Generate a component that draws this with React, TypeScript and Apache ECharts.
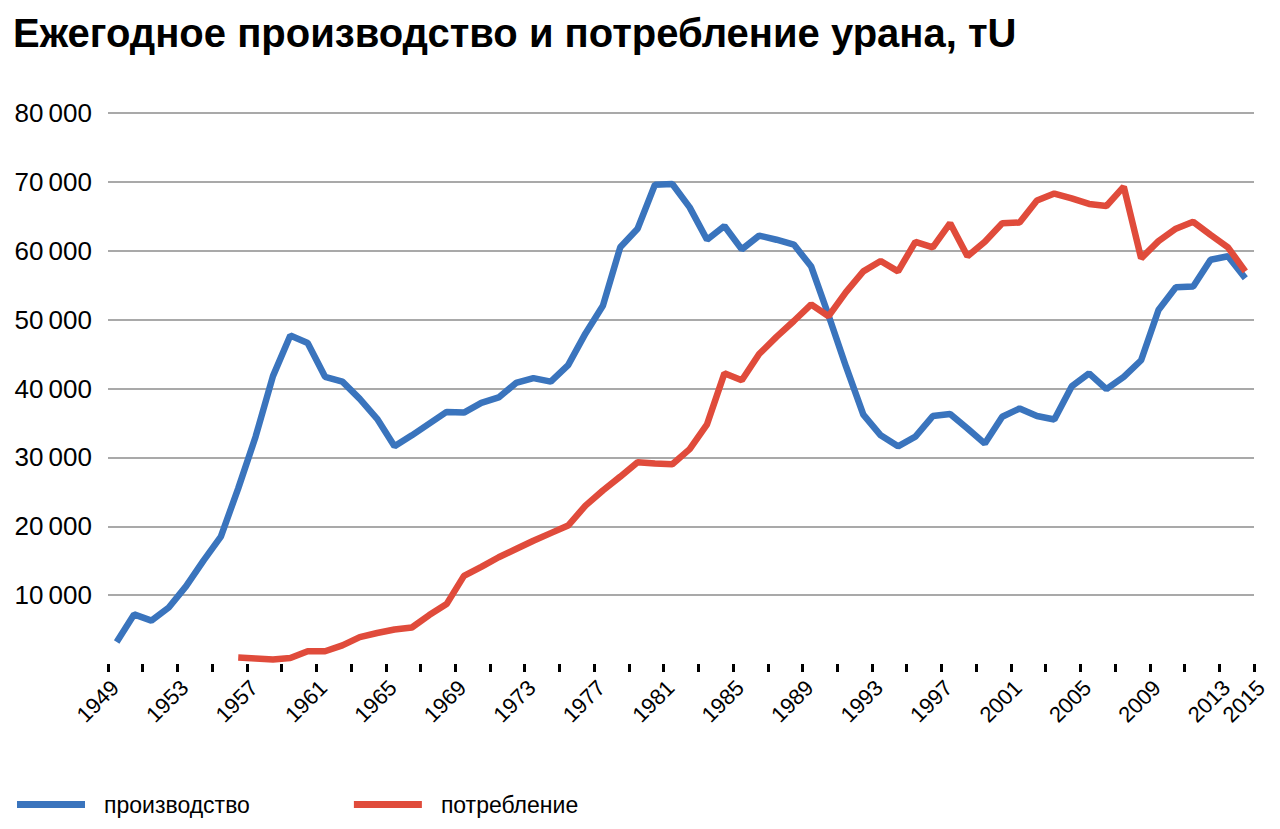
import React, { useEffect, useRef } from "react";
import * as echarts from "echarts";

const TITLE = "Ежегодное производство и потребление урана, тU";
const SERIES_NAMES = ["производство", "потребление"];

const productionStartYear = 1949;
const production = [
  3200, 7200, 6300, 8200, 11300, 15000, 18500, 25500, 33000, 41800,
  47700, 46600, 41700, 41000, 38500, 35600, 31600, 33200, 34900, 36600,
  36500, 37900, 38700, 40800, 41500, 41000, 43400, 48000, 52000, 60500,
  63200, 69600, 69700, 66300, 61600, 63600, 60200, 62200, 61600, 60900,
  57700, 50600, 43200, 36200, 33200, 31600, 33000, 36000, 36300, 34200,
  32000, 35900, 37100, 36000, 35500, 40300, 42200, 39900, 41700, 44100,
  51400, 54700, 54800, 58700, 59200, 56000,
];

const consumptionStartYear = 1956;
const consumption = [
  930, 800, 650, 870, 1850, 1850, 2700, 3900, 4500, 5000,
  5300, 7100, 8700, 12800, 14100, 15500, 16700, 17900, 19000, 20100,
  23000, 25200, 27200, 29300, 29100, 29000, 31200, 34800, 42200, 41200,
  45000, 47500, 49800, 52200, 50500, 54000, 57000, 58500, 57000, 61300,
  60500, 64000, 59200, 61300, 64000, 64100, 67300, 68300, 67600, 66800,
  66500, 69300, 58900, 61400, 63200, 64200, 62300, 60500, 57000,
];

const AXIS_MIN_YEAR = 1949;
const AXIS_MAX_YEAR = 2015;
const tickYears = [
  1949, 1951, 1953, 1955, 1957, 1959, 1961, 1963, 1965, 1967, 1969, 1971,
  1973, 1975, 1977, 1979, 1981, 1983, 1985, 1987, 1989, 1991, 1993, 1995,
  1997, 1999, 2001, 2003, 2005, 2007, 2009, 2011, 2013, 2015,
];
const labelYears = [
  1949, 1953, 1957, 1961, 1965, 1969, 1973, 1977, 1981, 1985, 1989, 1993,
  1997, 2001, 2005, 2009, 2013, 2015,
];
const yTicks = [0, 10000, 20000, 30000, 40000, 50000, 60000, 70000, 80000];

const BLUE = "#3a74bd";
const RED = "#e04b3b";
const FONT = "'Liberation Sans', Arial, sans-serif";

function toPoints(start: number, values: number[]) {
  // each year's value sits in the middle of its yearly slot
  return values.map((v, i) => [start + i + 0.5, v]);
}

function fmt(v: number) {
  if (v === 0) return "";
  const s = String(Math.round(v));
  return s.slice(0, s.length - 3) + "\u2009" + s.slice(s.length - 3);
}

export default function App() {
  const ref = useRef<HTMLDivElement>(null);

  useEffect(() => {
    if (!ref.current) return;
    const chart = echarts.init(ref.current, undefined, { renderer: "svg" });
    chart.setOption({
      animation: false,
      backgroundColor: "#ffffff",
      title: {
        text: TITLE,
        left: 8,
        top: 8,
        textStyle: {
          fontFamily: FONT,
          fontSize: 40,
          fontWeight: "bold",
          color: "#000",
        },
      },
      legend: {
        left: 12,
        top: 788,
        icon: "rect",
        itemWidth: 68,
        itemHeight: 7,
        itemGap: 104,
        textStyle: {
          fontFamily: FONT,
          fontSize: 23,
          color: "#000",
          padding: [0, 0, 0, 14],
        },
        data: SERIES_NAMES,
      },
      grid: {
        left: 108,
        right: 26,
        top: 113,
        bottom: 165,
        containLabel: false,
      },
      xAxis: {
        type: "value",
        min: AXIS_MIN_YEAR,
        max: AXIS_MAX_YEAR,
        axisLine: { show: false },
        splitLine: { show: false },
        axisTick: {
          show: true,
          length: 8,
          customValues: tickYears,
          lineStyle: { color: "#000", width: 3 },
        },
        axisLabel: {
          customValues: labelYears,
          rotate: 45,
          margin: 27,
          padding: [0, -10, 0, 0],
          fontFamily: FONT,
          fontSize: 22,
          color: "#000",
          showMinLabel: true,
          showMaxLabel: true,
          formatter: (v: number) => String(Math.round(v)),
        },
      },
      yAxis: {
        type: "value",
        min: yTicks[0],
        max: yTicks[yTicks.length - 1],
        interval: 10000,
        axisLine: { show: false },
        axisTick: { show: false },
        splitLine: {
          show: true,
          showMinLine: false,
          lineStyle: { color: "#a9a9a9", width: 2 },
        },
        axisLabel: {
          margin: 16,
          fontFamily: FONT,
          fontSize: 26,
          color: "#000",
          formatter: fmt,
        },
      },
      series: [
        {
          name: SERIES_NAMES[0],
          type: "line",
          showSymbol: false,
          symbol: "none",
          color: BLUE,
          lineStyle: { width: 6.5, color: BLUE },
          data: toPoints(productionStartYear, production),
        },
        {
          name: SERIES_NAMES[1],
          type: "line",
          showSymbol: false,
          symbol: "none",
          color: RED,
          lineStyle: { width: 6.5, color: RED },
          data: toPoints(consumptionStartYear, consumption),
        },
      ],
    });
    return () => chart.dispose();
  }, []);

  return (
    <div
      ref={ref}
      style={{ position: "fixed", left: 0, top: 0, width: 1280, height: 829 }}
    />
  );
}
